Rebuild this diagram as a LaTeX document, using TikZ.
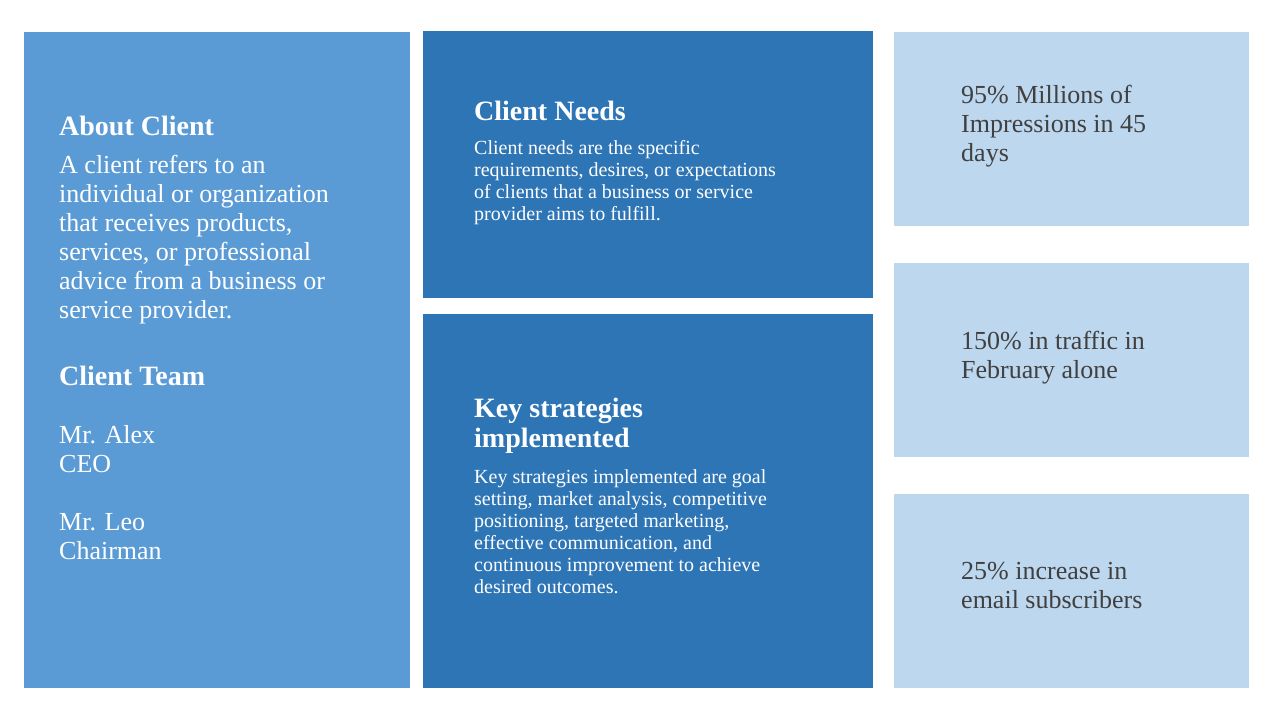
\documentclass[tikz,border=0pt]{standalone}
\usepackage{fontspec}
\setmainfont{Liberation Serif}
\definecolor{lb}{HTML}{5B9BD5}
\definecolor{mb}{HTML}{2E75B6}
\definecolor{pb}{HTML}{BDD7EE}
\definecolor{tx}{HTML}{404040}
\begin{document}
\begin{tikzpicture}[x=1pt,y=-1pt,
  txt/.style={anchor=north west,inner sep=0pt,align=left},
  big/.style={txt,font=\fontsize{26}{29}\selectfont},
  ttl/.style={txt,font=\fontsize{28}{30}\selectfont\bfseries},
  sm/.style={txt,font=\fontsize{20}{22}\selectfont}]
\useasboundingbox[fill=white] (0,0) rectangle (1280,720);
\fill[lb] (24,32) rectangle (410,688);
\fill[mb] (423,31) rectangle (873,298);
\fill[mb] (423,314) rectangle (873,688);
\fill[pb] (894,32) rectangle (1249,226);
\fill[pb] (894,263) rectangle (1249,457);
\fill[pb] (894,494) rectangle (1249,688);
\node[ttl,text=white] (a1) at (59,116) {About Client};
\node[big,text=white] (a2) at (59,155) {A client refers to an\\individual or organization\\that receives products,\\services, or professional\\advice from a business or\\service provider.};
\node[ttl,text=white] (a3) at (59,366) {Client Team};
\node[big,text=white] (a4) at (59,425) {Mr. Alex\\CEO\\[29pt]Mr. Leo\\Chairman};
\node[ttl,text=white] (b1) at (474,101) {Client Needs};
\node[sm,text=white] (b2) at (474,140) {Client needs are the specific\\requirements, desires, or expectations\\of clients that a business or service\\provider aims to fulfill.};
\node[ttl,text=white] (c1) at (474,398) {Key strategies\\implemented};
\node[sm,text=white] (c2) at (474,469) {Key strategies implemented are goal\\setting, market analysis, competitive\\positioning, targeted marketing,\\effective communication, and\\continuous improvement to achieve\\desired outcomes.};
\node[big,text=tx] (d1) at (961,85) {95\% Millions of\\Impressions in 45\\days};
\node[big,text=tx] (d2) at (961,331) {150\% in traffic in\\February alone};
\node[big,text=tx] (d3) at (961,562) {25\% increase in\\email subscribers};
\end{tikzpicture}
\end{document}
